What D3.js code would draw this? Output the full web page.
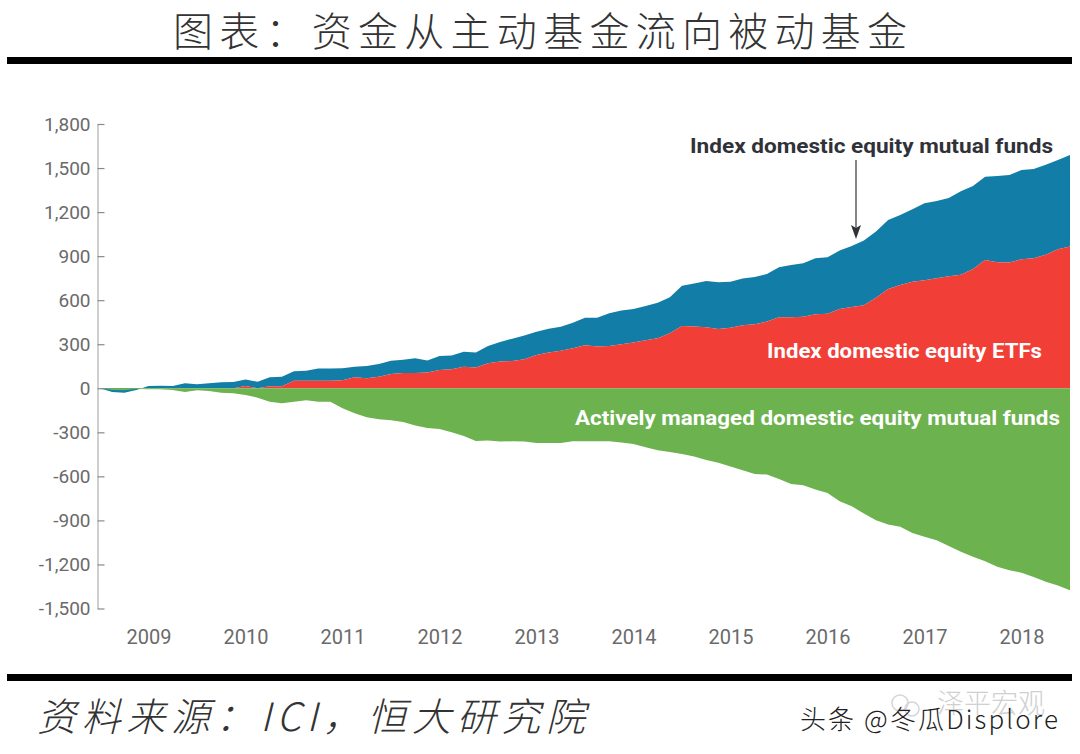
<!doctype html>
<html lang="zh">
<head>
<meta charset="utf-8">
<title>资金从主动基金流向被动基金</title>
<style>
html, body { margin: 0; padding: 0; background: #fff; }
svg { display: block; }
.cjk { font-family: "Noto Sans CJK SC", sans-serif; font-weight: 300; }
.num { font-family: Roboto, sans-serif; font-size: 19px; fill: #6a6a6a; }
.lbl { font-family: Roboto, sans-serif; font-size: 21px; font-weight: 700; }
</style>
</head>
<body>
<div id="chart"></div>
<script src="https://cdn.jsdelivr.net/npm/d3@7/dist/d3.min.js"></script>
<script>
// readings every 1/8 of a year, from the start of 2009 to the end of 2018
var firstYear = 2009;
var stepsPerYear = 8;
var yTicks = [1800, 1500, 1200, 900, 600, 300, 0, -300, -600, -900, -1200, -1500];
var yearLabels = [2009, 2010, 2011, 2012, 2013, 2014, 2015, 2016, 2017, 2018];

// top edge of the blue band: ETFs + index mutual funds
var indexTop = [
  0, -25, -30, -12, 16, 18, 16, 34, 27, 34,
  41, 43, 59, 45, 75, 79, 116, 120, 134, 134,
  136, 147, 152, 165, 188, 195, 204, 190, 220, 224,
  249, 243, 288, 315, 338, 360, 385, 405, 419, 446,
  480, 481, 511, 529, 540, 561, 583, 620, 699, 713,
  731, 722, 726, 747, 758, 779, 824, 840, 851, 885,
  892, 938, 969, 1006, 1067, 1146, 1180, 1219, 1260, 1276,
  1296, 1342, 1378, 1441, 1446, 1453, 1487, 1494, 1523, 1555,
  1589
];
var etfs = [
  0, 0, 0, 0, 0, 0, 0, 0, 0, 0,
  0, 0, 15, 0, 14, 14, 52, 52, 52, 52,
  54, 75, 68, 79, 98, 104, 104, 107, 125, 129,
  147, 141, 170, 182, 186, 197, 227, 243, 256, 272,
  293, 284, 288, 300, 311, 327, 340, 375, 425, 420,
  415, 404, 413, 429, 436, 454, 484, 484, 488, 504,
  508, 540, 554, 565, 617, 676, 704, 726, 735, 749,
  763, 774, 813, 874, 858, 856, 878, 885, 910, 947,
  965
];
var active = [
  0, -12, -14, -5, -7, -7, -11, -25, -14, -18,
  -30, -34, -45, -64, -91, -102, -91, -82, -91, -91,
  -136, -170, -197, -211, -218, -229, -254, -270, -277, -300,
  -325, -359, -356, -363, -361, -363, -372, -372, -372, -361,
  -361, -361, -361, -370, -379, -402, -422, -434, -447, -465,
  -488, -507, -532, -559, -584, -588, -618, -652, -661, -690,
  -713, -770, -804, -853, -899, -928, -944, -985, -1012, -1035,
  -1075, -1114, -1148, -1178, -1216, -1239, -1257, -1286, -1318, -1343,
  -1375
];

var svg = d3.select('#chart').append('svg')
  .attr('width', 1080)
  .attr('height', 754);

var x = d3.scaleLinear().domain([2009, 2019]).range([100, 1070]);
var y = d3.scaleLinear().domain([1800, -1500]).range([124, 608.5]);

var rows = indexTop.map(function (v, i) {
  return { t: firstYear + i / stepsPerYear, top: v, etf: etfs[i], act: active[i] };
});

var band = function (lo, hi) {
  return d3.area()
    .x(function (d) { return x(d.t); })
    .y0(function (d) { return y(lo(d)); })
    .y1(function (d) { return y(hi(d)); });
};

// green goes last: early on the blue band dips under zero, below the green
svg.append('path').datum(rows).attr('fill', '#127da6')
  .attr('d', band(function (d) { return d.etf; }, function (d) { return d.top; }));
svg.append('path').datum(rows).attr('fill', '#f13e36')
  .attr('d', band(function () { return 0; }, function (d) { return d.etf; }));
svg.append('path').datum(rows).attr('fill', '#6cb24e')
  .attr('d', band(function () { return 0; }, function (d) { return d.act; }));

// axes
var commaFmt = d3.format(',');
var yAxis = svg.append('g')
  .attr('transform', 'translate(97.5,0)')
  .call(d3.axisLeft(y).tickValues(yTicks).tickSize(-7).tickSizeOuter(0).tickPadding(7)
    .tickFormat(function (d) { return commaFmt(d).replace('\u2212', '-'); }));
yAxis.select('.domain').attr('stroke', '#cfcfcf').attr('stroke-width', 2);
yAxis.selectAll('.tick line').attr('stroke', '#8a8a8a').attr('stroke-width', 1.2);
yAxis.selectAll('text').attr('class', 'num');

var xAxis = svg.append('g')
  .attr('transform', 'translate(0,627)')
  .call(d3.axisBottom(x)
    .tickValues(yearLabels.map(function (d) { return d + 0.5; }))
    .tickSize(0).tickPadding(3)
    .tickFormat(function (d) { return Math.floor(d); }));
xAxis.select('.domain').remove();
xAxis.selectAll('text').attr('class', 'num').style('font-size', '20px');

// series labels
var seriesLabels = [
  ['Index domestic equity mutual funds', 690, 153, 363, '#2f3238'],
  ['Index domestic equity ETFs', 767, 358, 275, '#fff'],
  ['Actively managed domestic equity mutual funds', 575, 425, 485, '#fff']
];
svg.selectAll('text.lbl').data(seriesLabels).enter().append('text')
  .attr('class', 'lbl')
  .attr('x', function (d) { return d[1]; })
  .attr('y', function (d) { return d[2]; })
  .attr('textLength', function (d) { return d[3]; })
  .attr('lengthAdjust', 'spacingAndGlyphs')
  .attr('fill', function (d) { return d[4]; })
  .text(function (d) { return d[0]; });

// arrow to the blue band
svg.append('line')
  .attr('x1', 856).attr('x2', 856).attr('y1', 160).attr('y2', 230)
  .attr('stroke', '#444').attr('stroke-width', 1.3);
svg.append('path')
  .attr('d', 'M851,225 L856,228 L861,225 L856,239 Z')
  .attr('fill', '#2f3238');

// title, rules, source
svg.append('text').attr('class', 'cjk')
  .attr('x', 173).attr('y', 46)
  .attr('font-size', 40)
  .attr('fill', '#333')
  .attr('textLength', 734)
  .text('图表\uFF1A资金从主动基金流向被动基金');
svg.append('rect').attr('x', 7).attr('y', 57).attr('width', 1065).attr('height', 7).attr('fill', '#000');
svg.append('rect').attr('x', 7).attr('y', 674).attr('width', 1065).attr('height', 7).attr('fill', '#000');
svg.append('text').attr('class', 'cjk')
  .attr('x', 37).attr('y', 731)
  .attr('font-size', 39)
  .attr('font-style', 'italic')
  .attr('fill', '#333')
  .attr('textLength', 548)
  .text('资料来源\uFF1AICI\uFF0C恒大研究院');

// watermarks
svg.append('circle').attr('cx', 900).attr('cy', 703).attr('r', 8).attr('fill', 'none').attr('stroke', '#d5d5d5').attr('stroke-width', 1.5);
svg.append('circle').attr('cx', 912).attr('cy', 709).attr('r', 7).attr('fill', 'none').attr('stroke', '#d5d5d5').attr('stroke-width', 1.5);
svg.append('text').attr('class', 'cjk')
  .attr('x', 937).attr('y', 713)
  .attr('font-size', 27)
  .attr('fill', '#d0d0d0')
  .text('泽平宏观');
svg.append('text').attr('class', 'cjk')
  .attr('x', 800).attr('y', 729)
  .attr('font-size', 26)
  .attr('fill', '#222')
  .attr('textLength', 258)
  .text('头条 @冬瓜Displore');
</script>
</body>
</html>
